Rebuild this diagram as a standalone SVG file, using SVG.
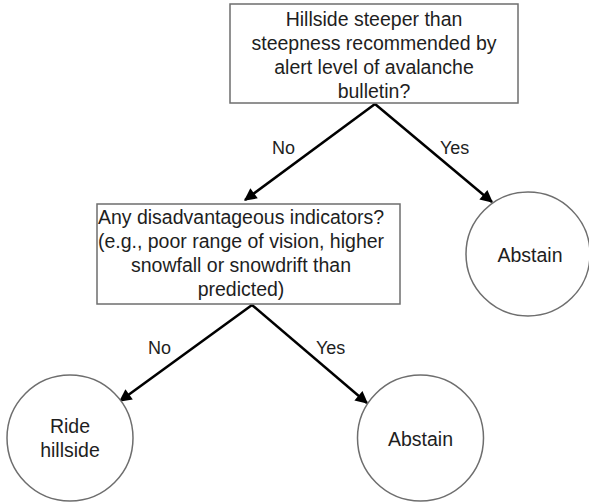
<svg xmlns="http://www.w3.org/2000/svg" width="589" height="503" viewBox="0 0 589 503">
  <style>
    .box { fill: #ffffff; stroke: #6e6e6e; stroke-width: 1.5; }
    .txt { font-family: "Liberation Sans", Arial, sans-serif; font-size: 19.5px; fill: #1e1e1e; text-anchor: middle; }
    .lbl { font-family: "Liberation Sans", Arial, sans-serif; font-size: 18px; fill: #1e1e1e; }
    .edge { stroke: #000000; stroke-width: 2.5; fill: none; marker-end: url(#arrow); }
  </style>
  <defs>
    <marker id="arrow" viewBox="0 0 10 10" refX="9" refY="5" markerWidth="6" markerHeight="5" orient="auto" markerUnits="strokeWidth">
      <path d="M0,0 L10,5 L0,10 z" fill="#000000"/>
    </marker>
  </defs>
  <rect width="589" height="503" fill="#ffffff"/>

  <g id="connectors">
    <line class="edge" x1="375" y1="104" x2="245" y2="200"/>
    <line class="edge" x1="375" y1="104" x2="492" y2="202"/>
    <line class="edge" x1="252" y1="305" x2="120" y2="401"/>
    <line class="edge" x1="252" y1="305" x2="367" y2="403"/>
    <text class="lbl" x="272" y="154">No</text>
    <text class="lbl" x="440" y="154">Yes</text>
    <text class="lbl" x="148" y="354">No</text>
    <text class="lbl" x="316" y="354">Yes</text>
  </g>

  <g id="q-steepness">
    <rect class="box" x="230" y="4" width="288" height="99"/>
    <text class="txt" x="374" y="26">Hillside steeper than</text>
    <text class="txt" x="374" y="50">steepness recommended by</text>
    <text class="txt" x="374" y="74">alert level of avalanche</text>
    <text class="txt" x="374" y="98">bulletin?</text>
  </g>

  <g id="q-indicators">
    <rect class="box" x="97" y="204" width="303" height="100"/>
    <text class="txt" x="241" y="224">Any disadvantageous indicators?</text>
    <text class="txt" x="241" y="248">(e.g., poor range of vision, higher</text>
    <text class="txt" x="241" y="272">snowfall or snowdrift than</text>
    <text class="txt" x="241" y="296">predicted)</text>
  </g>

  <g id="abstain-1">
    <circle class="box" cx="528" cy="254" r="62"/>
    <text class="txt" x="530" y="262">Abstain</text>
  </g>

  <g id="ride-hillside">
    <circle class="box" cx="70" cy="438" r="63"/>
    <text class="txt" x="70" y="433">Ride</text>
    <text class="txt" x="70" y="457">hillside</text>
  </g>

  <g id="abstain-2">
    <circle class="box" cx="420.5" cy="438" r="63"/>
    <text class="txt" x="420.5" y="446">Abstain</text>
  </g>
</svg>
